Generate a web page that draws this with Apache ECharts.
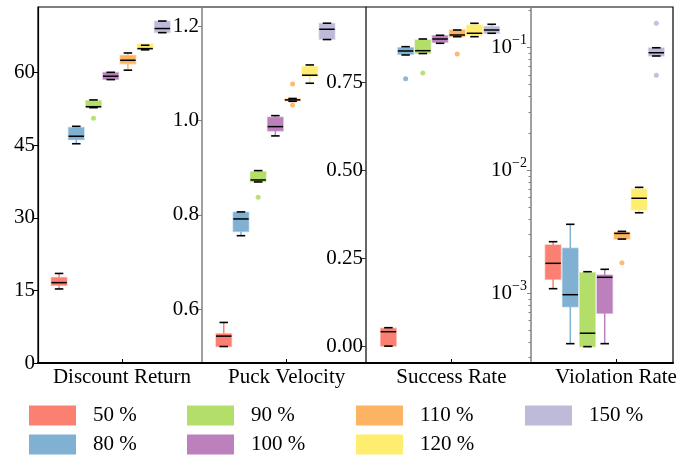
<!DOCTYPE html>
<html><head><meta charset="utf-8">
<script src="https://cdn.jsdelivr.net/npm/echarts@6/dist/echarts.min.js"></script>
<style>html,body{margin:0;padding:0;background:#fff}#chart{width:678px;height:459px}</style>
</head><body><div id="chart"></div>
<script>
// ---------- data ----------
const categories = ['Discount Return', 'Puck Velocity', 'Success Rate', 'Violation Rate'];
const hues = ['50 %', '80 %', '90 %', '100 %', '110 %', '120 %', '150 %'];
const hueColors = ['#FB8072', '#80B1D3', '#B3DE69', '#BC80BD', '#FDB462', '#FFED6F', '#BEBADA'];

// [min, Q1, median, Q3, max] for each hue
const discountReturn = [
  [15.3, 16.05, 16.6, 17.65, 18.5],
  [45.3, 46.15, 46.85, 48.65, 48.9],
  [52.75, 52.8, 52.95, 54.2, 54.35],
  [58.55, 58.6, 59.25, 60.0, 60.05],
  [60.5, 61.85, 62.55, 63.55, 64.05],
  [64.7, 64.75, 64.95, 65.9, 65.65],
  [68.25, 68.3, 69.1, 70.6, 70.65]
];
const puckVelocity = [
  [0.521, 0.521, 0.543, 0.548, 0.572],
  [0.756, 0.765, 0.7915, 0.8057, 0.8064],
  [0.870, 0.8706, 0.8742, 0.8918, 0.894],
  [0.9676, 0.9782, 0.9873, 1.0072, 1.0106],
  [1.041, 1.042, 1.044, 1.046, 1.047],
  [1.0793, 1.0948, 1.0963, 1.1145, 1.1181],
  [1.172, 1.1726, 1.1938, 1.206, 1.2066]
];
const successRate = [
  [0, 0, 0.041, 0.0507, 0.0524],
  [0.8289, 0.8309, 0.8403, 0.8497, 0.8525],
  [0.833, 0.8337, 0.8411, 0.8716, 0.8744],
  [0.8622, 0.865, 0.8744, 0.8838, 0.885],
  [0.881, 0.881, 0.8858, 0.9, 0.9],
  [0.881, 0.8858, 0.8907, 0.9143, 0.9191],
  [0.8907, 0.8907, 0.9, 0.9095, 0.9163]
];
const violationRate = [
  [1.088e-3, 1.298e-3, 1.751e-3, 2.47e-3, 2.626e-3],
  [3.88e-4, 7.76e-4, 9.72e-4, 2.32e-3, 3.64e-3],
  [3.67e-4, 3.67e-4, 4.72e-4, 1.469e-3, 1.496e-3],
  [3.88e-4, 6.86e-4, 1.347e-3, 1.406e-3, 1.565e-3],
  [2.76e-3, 2.76e-3, 3.07e-3, 3.13e-3, 3.19e-3],
  [4.52e-3, 4.76e-3, 5.93e-3, 7.05e-3, 7.28e-3],
  [0.0855, 0.0855, 0.0909, 0.0995, 0.0998]
];
// outliers: [hue index, value]
const discountReturnOutliers = [[2, 50.56]];
const puckVelocityOutliers = [[2, 0.8375], [4, 1.0778], [4, 1.0333]];
const successRateOutliers = [[1, 0.7614], [2, 0.7776], [4, 0.8317]];
const violationRateOutliers = [[4, 1.771e-3], [6, 0.1577], [6, 0.0595]];

// tick labels
const discountReturnTicks = [0, 15, 30, 45, 60];
const puckVelocityTicks = [0.6, 0.8, 1.0, 1.2];
const successRateTicks = [0, 0.25, 0.5, 0.75];
const violationRateTicks = [0.001, 0.01, 0.1];
const violationRateMinorTicks = [3e-4, 4e-4, 5e-4, 6e-4, 7e-4, 8e-4, 9e-4,
  2e-3, 3e-3, 4e-3, 5e-3, 6e-3, 7e-3, 8e-3, 9e-3,
  2e-2, 3e-2, 4e-2, 5e-2, 6e-2, 7e-2, 8e-2, 9e-2, 0.2];

// ---------- layout ----------
const FONT = "'Liberation Serif', 'Times New Roman', serif";
const FS = 21;
const GRID_L = 38, GRID_R = 5, GRID_T = 7, GRID_B = 96;
const X_MIN = -0.5101, X_MAX = 3.3461;
const DODGE = 0.1045, SHIFT = -0.0686, BOX_W = 0.094, CAP_RATIO = 0.55;

const panels = [
  { stats: discountReturn, outliers: discountReturnOutliers },
  { stats: puckVelocity, outliers: puckVelocityOutliers },
  { stats: successRate, outliers: successRateOutliers },
  { stats: violationRate, outliers: violationRateOutliers }
];

function xPos(g, h) { return g + SHIFT + (h - 3) * DODGE; }
function rgba(hex, a) {
  const n = parseInt(hex.slice(1), 16);
  return 'rgba(' + ((n >> 16) & 255) + ',' + ((n >> 8) & 255) + ',' + (n & 255) + ',' + a + ')';
}

function renderBox(params, api) {
  const x = api.value(0);
  const lo = api.value(1), q1 = api.value(2), md = api.value(3), q3 = api.value(4), hi = api.value(5);
  const color = api.visual('color');
  const pMd = api.coord([x, md]);
  const left = api.coord([x - BOX_W / 2, md])[0];
  const right = api.coord([x + BOX_W / 2, md])[0];
  const cx = pMd[0];
  const yLo = api.coord([x, lo])[1], yQ1 = api.coord([x, q1])[1];
  const yQ3 = api.coord([x, q3])[1], yHi = api.coord([x, hi])[1];
  const capHalf = (right - left) * CAP_RATIO / 2;
  return {
    type: 'group',
    children: [
      { type: 'line', shape: { x1: cx, y1: yQ1, x2: cx, y2: yLo }, style: { stroke: color, lineWidth: 1.5 } },
      { type: 'line', shape: { x1: cx, y1: yQ3, x2: cx, y2: yHi }, style: { stroke: color, lineWidth: 1.5 } },
      { type: 'rect', shape: { x: left, y: Math.min(yQ3, yQ1), width: right - left, height: Math.abs(yQ1 - yQ3) },
        style: { fill: color, stroke: rgba(color, 0.45), lineWidth: 1.5 } },
      { type: 'line', shape: { x1: left, y1: pMd[1], x2: right, y2: pMd[1] }, style: { stroke: '#000', lineWidth: 1.5 } },
      { type: 'line', shape: { x1: cx - capHalf, y1: yLo, x2: cx + capHalf, y2: yLo }, style: { stroke: '#000', lineWidth: 1.6 } },
      { type: 'line', shape: { x1: cx - capHalf, y1: yHi, x2: cx + capHalf, y2: yHi }, style: { stroke: '#000', lineWidth: 1.6 } }
    ]
  };
}

const series = [];
panels.forEach(function (p, g) {
  p.stats.forEach(function (s, h) {
    series.push({
      type: 'custom', name: hues[h], coordinateSystem: 'cartesian2d',
      xAxisIndex: 0, yAxisIndex: g,
      itemStyle: { color: hueColors[h] },
      encode: { x: 0, y: [1, 2, 3, 4, 5] },
      data: [[xPos(g, h)].concat(s)],
      renderItem: renderBox, silent: true
    });
  });
  series.push({
    type: 'scatter', xAxisIndex: 0, yAxisIndex: g, symbolSize: 5, silent: true,
    data: p.outliers.map(function (o) {
      return { value: [xPos(g, o[0]), o[1]], itemStyle: { color: hueColors[o[0]], opacity: 0.9 } };
    })
  });
});

const labelStyle = { fontFamily: FONT, fontSize: FS, color: '#000' };

function yAxis(opts) {
  return Object.assign({
    type: 'value', position: 'left', offset: -(opts.axisX - GRID_L),
    min: opts.min, max: opts.max,
    axisLine: { show: true, onZero: false, lineStyle: { color: opts.lineColor, width: opts.lineWidth || 1.5 } },
    axisTick: { show: true, length: 4, customValues: opts.ticks, lineStyle: { color: opts.lineColor } },
    axisLabel: Object.assign({ customValues: opts.ticks, formatter: opts.formatter, margin: 3 }, labelStyle),
    splitLine: { show: false }
  }, opts.extra || {});
}

const yAxes = [
  yAxis({ axisX: 38, min: 0, max: 73.55, ticks: discountReturnTicks, lineColor: '#000', lineWidth: 1.2,
          formatter: function (v) { return String(Math.round(v)); } }),
  yAxis({ axisX: 202, min: 0.486, max: 1.241, ticks: puckVelocityTicks, lineColor: '#808080',
          formatter: function (v) { return v.toFixed(1); } }),
  yAxis({ axisX: 366, min: -0.0481, max: 0.9655, ticks: successRateTicks, lineColor: '#333',
          formatter: function (v) { return v.toFixed(2); } }),
  yAxis({ axisX: 531, min: 2.70e-4, max: 0.2143, ticks: violationRateTicks, lineColor: '#808080',
          formatter: function (v) { return '{b|10}{s|\u2212' + Math.round(-Math.log10(v)) + '}'; },
          extra: { type: 'log', logBase: 10 } }),
  yAxis({ axisX: 531, min: 2.70e-4, max: 0.2143, ticks: violationRateMinorTicks, lineColor: '#808080',
          formatter: function () { return ''; },
          extra: { type: 'log', logBase: 10 } })
];
yAxes[3].axisLabel.rich = {
  b: { fontFamily: FONT, fontSize: FS, color: '#000' },
  s: { fontFamily: FONT, fontSize: 14, color: '#000', padding: [0, 0, 14, 0] }
};
yAxes[3].axisLabel.margin = 4;
yAxes[4].axisLine.show = false;
yAxes[4].axisTick.length = 2.5;
yAxes[4].axisLabel.show = false;

const legendCols = [[0, 1], [2, 3], [4, 5], [6]];
const legendLeft = [29, 187, 356, 525];
const legends = legendCols.map(function (col, i) {
  return {
    orient: 'vertical', left: legendLeft[i], top: 405, padding: 0,
    itemWidth: 47, itemHeight: 20, itemGap: 8, icon: 'rect',
    data: col.map(function (h) { return hues[h]; }),
    textStyle: Object.assign({ padding: [0, 0, 0, 12], lineHeight: 20 }, labelStyle),
    selectedMode: false
  };
});

const option = {
  animation: false,
  backgroundColor: '#fff',
  grid: { left: GRID_L, right: GRID_R, top: GRID_T, bottom: GRID_B, show: true,
          borderColor: '#000', borderWidth: 1.2, containLabel: false, outerBoundsMode: 'none' },
  xAxis: [{
    type: 'value', min: X_MIN, max: X_MAX, position: 'bottom',
    axisLine: { show: true, onZero: false, lineStyle: { color: '#000', width: 2 } },
    axisTick: { show: true, inside: true, length: 4, customValues: [0, 1, 2, 3], lineStyle: { color: '#000' } },
    axisLabel: Object.assign({ customValues: [0, 1, 2, 3], margin: 4,
      formatter: function (v) { return categories[Math.round(v)]; } }, labelStyle),
    splitLine: { show: false }
  }],
  yAxis: yAxes,
  legend: legends,
  series: series
};

const chart = echarts.init(document.getElementById('chart'), null, { renderer: 'canvas' });
chart.setOption(option);
</script>
</body></html>
